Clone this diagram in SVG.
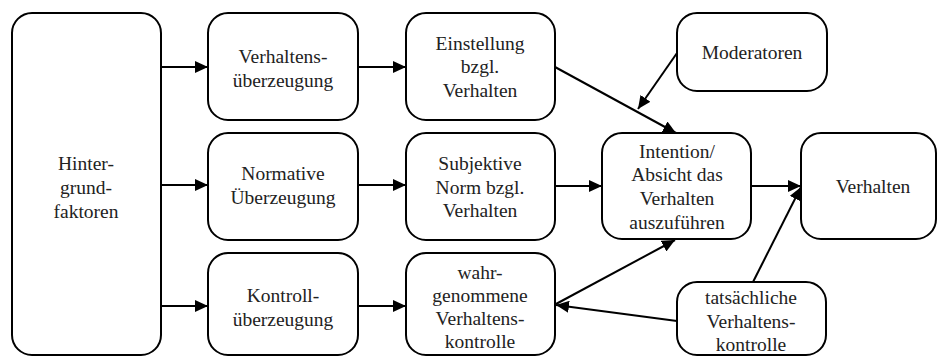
<svg xmlns="http://www.w3.org/2000/svg" width="938" height="356" viewBox="0 0 938 356">
<defs>
<style>
.box{fill:#fff;stroke:#000;stroke-width:2}
.t{font-family:"Liberation Serif","Times New Roman",serif;font-size:19.5px;fill:#222;text-anchor:middle}
.c{stroke:#000;stroke-width:2;fill:none;marker-end:url(#ah)}
</style>
<marker id="ah" markerUnits="userSpaceOnUse" markerWidth="13" markerHeight="12" refX="13" refY="6" orient="auto">
<path d="M0,0 L13,6 L0,12 Z" fill="#000"/>
</marker>
</defs>
<rect width="938" height="356" fill="#fff"/>
<g id="connectors">
<line class="c" x1="161" y1="67" x2="208" y2="67"/>
<line class="c" x1="161" y1="185" x2="208" y2="185"/>
<line class="c" x1="161" y1="306" x2="208" y2="306"/>
<line class="c" x1="358" y1="67" x2="406" y2="67"/>
<line class="c" x1="358" y1="185" x2="406" y2="185"/>
<line class="c" x1="358" y1="306" x2="406" y2="306"/>
<line class="c" x1="555" y1="67" x2="676" y2="133"/>
<line class="c" x1="677" y1="53" x2="638" y2="109"/>
<line class="c" x1="555" y1="186" x2="602" y2="186"/>
<line class="c" x1="751" y1="186" x2="801" y2="186"/>
<line class="c" x1="556" y1="304" x2="675" y2="240"/>
<line class="c" x1="677" y1="321" x2="556" y2="305"/>
<line class="c" x1="753" y1="282" x2="801" y2="187"/>
</g>
<g id="hintergrund">
<rect class="box" x="12" y="13" width="149" height="342" rx="20"/>
<text class="t" x="86" y="170">Hinter-</text>
<text class="t" x="86" y="194">grund-</text>
<text class="t" x="86" y="218">faktoren</text>
</g>
<g id="verhaltensueberzeugung">
<rect class="box" x="208" y="13" width="150" height="107" rx="20"/>
<text class="t" x="283" y="63">Verhaltens-</text>
<text class="t" x="283" y="87">überzeugung</text>
</g>
<g id="normative">
<rect class="box" x="208" y="133" width="150" height="107" rx="20"/>
<text class="t" x="283" y="180">Normative</text>
<text class="t" x="283" y="204">Überzeugung</text>
</g>
<g id="kontroll">
<rect class="box" x="208" y="253" width="150" height="102" rx="20"/>
<text class="t" x="283" y="302">Kontroll-</text>
<text class="t" x="283" y="326">überzeugung</text>
</g>
<g id="einstellung">
<rect class="box" x="406" y="13" width="149" height="107" rx="20"/>
<text class="t" x="480" y="50">Einstellung</text>
<text class="t" x="480" y="73">bzgl.</text>
<text class="t" x="480" y="97">Verhalten</text>
</g>
<g id="subjektive">
<rect class="box" x="406" y="133" width="149" height="107" rx="20"/>
<text class="t" x="480" y="170">Subjektive</text>
<text class="t" x="480" y="194">Norm bzgl.</text>
<text class="t" x="480" y="217">Verhalten</text>
</g>
<g id="wahrgenommene">
<rect class="box" x="406" y="253" width="149" height="102" rx="20"/>
<text class="t" x="480" y="279">wahr-</text>
<text class="t" x="480" y="302">genommene</text>
<text class="t" x="480" y="325">Verhaltens-</text>
<text class="t" x="480" y="348">kontrolle</text>
</g>
<g id="moderatoren">
<rect class="box" x="677" y="13" width="150" height="78" rx="20"/>
<text class="t" x="752" y="59">Moderatoren</text>
</g>
<g id="intention">
<rect class="box" x="602" y="133" width="149" height="106" rx="20"/>
<text class="t" x="677" y="158">Intention/</text>
<text class="t" x="677" y="181">Absicht das</text>
<text class="t" x="677" y="205">Verhalten</text>
<text class="t" x="677" y="229">auszuführen</text>
</g>
<g id="verhalten">
<rect class="box" x="801" y="133" width="135" height="106" rx="20"/>
<text class="t" x="873" y="193">Verhalten</text>
</g>
<g id="tatsaechliche">
<rect class="box" x="677" y="282" width="149" height="73" rx="20"/>
<text class="t" x="751" y="304">tatsächliche</text>
<text class="t" x="751" y="328">Verhaltens-</text>
<text class="t" x="751" y="351">kontrolle</text>
</g>
</svg>
